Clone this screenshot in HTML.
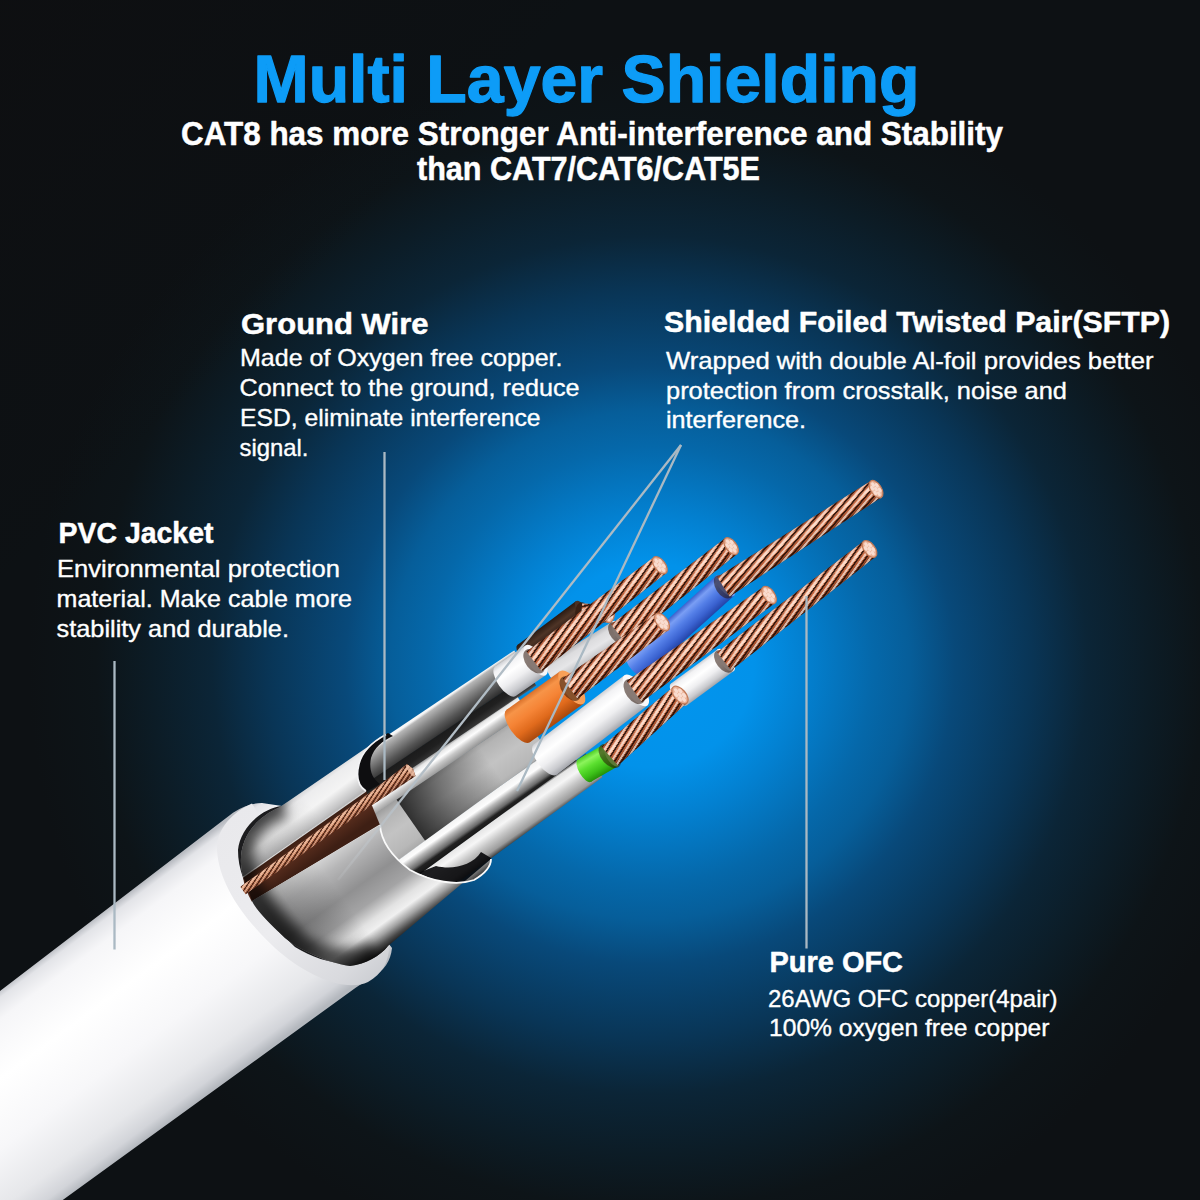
<!DOCTYPE html>
<html lang="en">
<head>
<meta charset="utf-8">
<title>Multi Layer Shielding</title>
<style>
html,body{margin:0;padding:0;background:#0d1114;}
body{width:1200px;height:1200px;overflow:hidden;font-family:"Liberation Sans",sans-serif;}
svg{display:block;position:absolute;left:0;top:0;}
text{font-family:"Liberation Sans",sans-serif;}
</style>
</head>
<body>
<svg width="1200" height="1200" viewBox="0 0 1200 1200">
<defs>
<radialGradient id="bgglow" gradientUnits="userSpaceOnUse" cx="0" cy="0" r="1" gradientTransform="translate(650,665) scale(622,610)">
<stop offset="0" stop-color="#0296f0"/>
<stop offset="0.167" stop-color="#0292ea"/>
<stop offset="0.25" stop-color="#0380d0"/>
<stop offset="0.358" stop-color="#0568aa"/>
<stop offset="0.417" stop-color="#065e9a"/>
<stop offset="0.49" stop-color="#08497a"/>
<stop offset="0.613" stop-color="#093556"/>
<stop offset="0.703" stop-color="#0b2537"/>
<stop offset="0.803" stop-color="#0c1c26"/>
<stop offset="0.89" stop-color="#0d1418"/>
<stop offset="1" stop-color="#0d1114"/>
</radialGradient>
<linearGradient id="bgshade" gradientUnits="userSpaceOnUse" x1="0" y1="0" x2="300" y2="300">
<stop offset="0" stop-color="#0e0e10" stop-opacity="0.7"/>
<stop offset="1" stop-color="#0e0e10" stop-opacity="0"/>
</linearGradient>
<linearGradient id="jacketG" gradientUnits="userSpaceOnUse" x1="112" y1="905.3" x2="236" y2="1072.4">
<stop offset="0" stop-color="#b9bcc2"/>
<stop offset="0.035" stop-color="#e3e4e8"/>
<stop offset="0.12" stop-color="#f6f6f8"/>
<stop offset="0.35" stop-color="#ffffff"/>
<stop offset="0.62" stop-color="#f7f7f9"/>
<stop offset="0.85" stop-color="#e6e7ea"/>
<stop offset="0.95" stop-color="#d2d4d9"/>
<stop offset="1" stop-color="#b4b8be"/>
</linearGradient>
<linearGradient id="ringG" gradientUnits="userSpaceOnUse" x1="225" y1="820" x2="380" y2="985">
<stop offset="0" stop-color="#e9e9ec"/>
<stop offset="0.5" stop-color="#ececef"/>
<stop offset="0.85" stop-color="#d9dade"/>
<stop offset="1" stop-color="#c9cbd0"/>
</linearGradient>
<linearGradient id="ofUpG" gradientUnits="userSpaceOnUse" x1="318" y1="778" x2="345" y2="815">
<stop offset="0" stop-color="#cfd0d3"/>
<stop offset="0.15" stop-color="#ededee"/>
<stop offset="0.45" stop-color="#f4f4f4"/>
<stop offset="0.75" stop-color="#c4c4c5"/>
<stop offset="1" stop-color="#8e8e8f"/>
</linearGradient>
<linearGradient id="ofLoG" gradientUnits="userSpaceOnUse" x1="316" y1="862" x2="381" y2="952">
<stop offset="0" stop-color="#d4d4d4"/>
<stop offset="0.14" stop-color="#b6b6b7"/>
<stop offset="0.4" stop-color="#909091"/>
<stop offset="0.58" stop-color="#a4a4a5"/>
<stop offset="0.72" stop-color="#e2e2e2"/>
<stop offset="0.8" stop-color="#f0f0f0"/>
<stop offset="0.88" stop-color="#a2a2a2"/>
<stop offset="0.95" stop-color="#4a4a4a"/>
<stop offset="1" stop-color="#1c1c1c"/>
</linearGradient>
<linearGradient id="ofShade" gradientUnits="userSpaceOnUse" x1="250" y1="890" x2="330" y2="830">
<stop offset="0" stop-color="#000" stop-opacity="0.4"/>
<stop offset="0.35" stop-color="#000" stop-opacity="0.15"/>
<stop offset="1" stop-color="#000" stop-opacity="0"/>
</linearGradient>
<linearGradient id="grooveG" gradientUnits="userSpaceOnUse" x1="300" y1="832" x2="318" y2="858">
<stop offset="0" stop-color="#2e170e"/>
<stop offset="0.5" stop-color="#5a2e1e"/>
<stop offset="1" stop-color="#3e1f14"/>
</linearGradient>
<linearGradient id="cuG" gradientUnits="objectBoundingBox" x1="0" y1="0" x2="0" y2="1">
<stop offset="0" stop-color="#7a3e28"/>
<stop offset="0.25" stop-color="#e2a888"/>
<stop offset="0.5" stop-color="#c67c58"/>
<stop offset="0.8" stop-color="#8a4a30"/>
<stop offset="1" stop-color="#4a2416"/>
</linearGradient>
<pattern id="twist" patternUnits="userSpaceOnUse" width="11" height="40" patternTransform="skewX(-69)">
<rect x="0" y="0" width="3" height="40" fill="#3a190e" fill-opacity="0.85"/>
<rect x="5.5" y="0" width="2.6" height="40" fill="#ffe0cc" fill-opacity="0.55"/>
</pattern>
<linearGradient id="ofShadeL" gradientUnits="userSpaceOnUse" x1="290" y1="940" x2="345" y2="900">
<stop offset="0" stop-color="#000" stop-opacity="0.45"/>
<stop offset="0.3" stop-color="#000" stop-opacity="0.2"/>
<stop offset="1" stop-color="#000" stop-opacity="0"/>
</linearGradient>
<filter id="blur7" x="-20%" y="-20%" width="140%" height="140%"><feGaussianBlur stdDeviation="6"/></filter>
<clipPath id="ofClip"><path d="M280,807 L385,735 C372,742 362,752 359,764 C356,776 358,786 366,791 L380,825 C381,840 390,855 410,870 C432,882 457,886 474,880 C486,873 491,866 491,859 L388,946 C380,956 366,964 350,966 C325,962 300,950 285,938 C268,922 257,911 252,901 L243,876 C236,850 246,822 280,807 Z"/></clipPath>
<linearGradient id="leadFade" gradientUnits="userSpaceOnUse" x1="681" y1="445" x2="338" y2="880">
<stop offset="0" stop-color="#aab9c3"/>
<stop offset="0.8" stop-color="#b4bec6"/>
<stop offset="1" stop-color="#c8ccd0" stop-opacity="0.15"/>
</linearGradient>
<linearGradient id="tW" x1="0" y1="0" x2="0" y2="1"><stop offset="0" stop-color="#cfd0d4"/><stop offset="0.12" stop-color="#f2f2f4"/><stop offset="0.35" stop-color="#ffffff"/><stop offset="0.6" stop-color="#eeeef0"/><stop offset="0.85" stop-color="#c9cace"/><stop offset="1" stop-color="#a2a4aa"/></linearGradient>
<linearGradient id="tW2" x1="0" y1="0" x2="0" y2="1"><stop offset="0" stop-color="#b9babd"/><stop offset="0.2" stop-color="#dcdcde"/><stop offset="0.5" stop-color="#e6e6e8"/><stop offset="0.8" stop-color="#c4c5c8"/><stop offset="1" stop-color="#9a9ca0"/></linearGradient>
<linearGradient id="tO" x1="0" y1="0" x2="0" y2="1"><stop offset="0" stop-color="#d8702a"/><stop offset="0.15" stop-color="#f79448"/><stop offset="0.4" stop-color="#f58436"/><stop offset="0.7" stop-color="#e06a1c"/><stop offset="1" stop-color="#a8480c"/></linearGradient>
<linearGradient id="tB" x1="0" y1="0" x2="0" y2="1"><stop offset="0" stop-color="#3a60cc"/><stop offset="0.2" stop-color="#7a9ef4"/><stop offset="0.45" stop-color="#5580e8"/><stop offset="0.75" stop-color="#3a62d0"/><stop offset="1" stop-color="#2444a8"/></linearGradient>
<linearGradient id="tG" x1="0" y1="0" x2="0" y2="1"><stop offset="0" stop-color="#4ccc24"/><stop offset="0.2" stop-color="#8cf45c"/><stop offset="0.45" stop-color="#5ce030"/><stop offset="0.75" stop-color="#3cc018"/><stop offset="1" stop-color="#249008"/></linearGradient>
<linearGradient id="tBr" x1="0" y1="0" x2="0" y2="1"><stop offset="0" stop-color="#2a1a12"/><stop offset="0.3" stop-color="#4e3426"/><stop offset="0.6" stop-color="#33211a"/><stop offset="1" stop-color="#140c08"/></linearGradient>
<linearGradient id="cu" x1="0" y1="0" x2="0" y2="1"><stop offset="0" stop-color="#7a3a22"/><stop offset="0.16" stop-color="#e29474"/><stop offset="0.36" stop-color="#f6c0a4"/><stop offset="0.55" stop-color="#d67a52"/><stop offset="0.8" stop-color="#9c4e2e"/><stop offset="1" stop-color="#4a2210"/></linearGradient>
<linearGradient id="f1" x1="0" y1="0" x2="0" y2="1"><stop offset="0" stop-color="#ffffff"/><stop offset="0.12" stop-color="#f4f4f4"/><stop offset="0.19" stop-color="#b6b6b6"/><stop offset="0.42" stop-color="#888888"/><stop offset="0.7" stop-color="#565656"/><stop offset="1" stop-color="#2a2a2a"/></linearGradient>
<linearGradient id="f1d" x1="0" y1="0" x2="0" y2="1"><stop offset="0" stop-color="#1a1a1a"/><stop offset="0.5" stop-color="#202020"/><stop offset="0.85" stop-color="#343434"/><stop offset="1" stop-color="#5a5a5a"/></linearGradient>
<linearGradient id="f1c" x1="0" y1="0" x2="0" y2="1"><stop offset="0" stop-color="#6c6c6c"/><stop offset="0.2" stop-color="#e6e6e6"/><stop offset="0.4" stop-color="#fdfdfd"/><stop offset="0.62" stop-color="#c8c8c8"/><stop offset="1" stop-color="#8c8c8c"/></linearGradient>
<linearGradient id="f2" x1="0" y1="0" x2="0" y2="1"><stop offset="0" stop-color="#9c9c9c"/><stop offset="0.15" stop-color="#b4b4b4"/><stop offset="0.5" stop-color="#c3c3c3"/><stop offset="0.85" stop-color="#b8b8b8"/><stop offset="1" stop-color="#a8a8a8"/></linearGradient>
<linearGradient id="f3" x1="0" y1="0" x2="0" y2="1"><stop offset="0" stop-color="#5a5a5a"/><stop offset="0.07" stop-color="#f2f2f2"/><stop offset="0.3" stop-color="#fdfdfd"/><stop offset="0.45" stop-color="#b8b8b8"/><stop offset="0.68" stop-color="#6a6a6a"/><stop offset="0.78" stop-color="#222"/><stop offset="1" stop-color="#141414"/></linearGradient>
<linearGradient id="f4" x1="0" y1="0" x2="0" y2="1"><stop offset="0" stop-color="#2a2a2a"/><stop offset="0.08" stop-color="#e4e4e4"/><stop offset="0.3" stop-color="#f6f6f6"/><stop offset="0.55" stop-color="#c6c6c6"/><stop offset="0.8" stop-color="#9c9c9c"/><stop offset="0.93" stop-color="#4c4c4c"/><stop offset="1" stop-color="#181818"/></linearGradient>
<linearGradient id="f2sh" x1="0" y1="0" x2="1" y2="0"><stop offset="0" stop-color="#000" stop-opacity="0.75"/><stop offset="0.3" stop-color="#000" stop-opacity="0.4"/><stop offset="0.7" stop-color="#000" stop-opacity="0"/></linearGradient>
<pattern id="tw" patternUnits="userSpaceOnUse" width="21" height="60" patternTransform="skewX(-73)">
<rect x="0" y="0" width="5.5" height="60" fill="#260e06" fill-opacity="0.88"/>
<rect x="5.5" y="0" width="3.5" height="60" fill="#a04826" fill-opacity="0.6"/>
<rect x="11.5" y="0" width="6.5" height="60" fill="#fff0e6" fill-opacity="0.66"/>
</pattern>

</defs>
<rect width="1200" height="1200" fill="#0d1114"/>
<rect width="1200" height="1200" fill="url(#bgglow)"/>
<rect width="1200" height="1200" fill="url(#bgshade)"/>
<!-- PVC jacket -->
<g id="jacket">
<path d="M-5,994.8 L233,812.8 Q247,803 262,803 L282,806 L392,948 Q390,968 372,977 L356,987.5 L60,1202 L-5,1202 Z" fill="url(#jacketG)"/>
<!-- end face ring -->
<path d="M252,803.5 C232,812 216,830 217,850 C219,885 245,920 275,948 C305,975 345,993 368,982 C382,974 389,962 389,946 L300,880 Z" fill="url(#ringG)"/>
</g>
<g id="inner" transform="translate(388,735) rotate(-34.84)">
<polygon points="-70.0,56.8 122.0,60.1 122.0,105.3 -70.0,109.2" fill="url(#f2)"/>
<polygon points="-30.0,57.5 110.0,59.9 110.0,105.6 -30.0,108.4" fill="url(#f2sh)"/>
<polygon points="-70.0,-1.2 152.0,2.7 152.0,31.2 -70.0,27.3" fill="url(#f1)"/>
<polygon points="-70.0,26.8 150.0,30.6 150.0,44.1 -70.0,40.3" fill="url(#f1d)"/>
<polygon points="-70.0,39.8 128.0,43.2 128.0,60.7 -70.0,57.3" fill="url(#f1c)"/>
<polygon points="-70.0,108.7 140.0,104.5 140.0,129.0 -70.0,133.2" fill="url(#f3)"/>
<polygon points="-70.0,132.7 152.0,128.2 152.0,157.2 -70.0,161.7" fill="url(#f4)"/>
<g transform="translate(158.0,11.5) rotate(-1.96)"><ellipse cx="0" cy="0" rx="4.8" ry="11.5" fill="url(#tBr)"/><rect x="0" y="-11.5" width="73.0" height="23.0" fill="url(#tBr)"/><ellipse cx="73.0" cy="0" rx="4.8" ry="11.5" fill="#4a3024"/></g>
<g transform="translate(229.0,10.0) rotate(37.69)"><ellipse cx="0" cy="0" rx="6.5" ry="10.5" fill="#2a1208" fill-opacity="0.55"/><polygon points="0,-9.0 27.8,-9.0 27.8,9.0 0,9.0" fill="url(#cu)"/><polygon points="0,-9.0 27.8,-9.0 27.8,9.0 0,9.0" fill="url(#tw)"/><ellipse cx="27.8" cy="0" rx="5.0" ry="9.0" fill="#e9b196" stroke="#c27a58" stroke-width="1.2"/><ellipse cx="27.8" cy="0.0" rx="1.5" ry="2.4" fill="#f9dccf"/><ellipse cx="27.8" cy="-5.0" rx="1.5" ry="2.4" fill="#f9dccf"/><ellipse cx="27.8" cy="5.0" rx="1.5" ry="2.4" fill="#f9dccf"/><ellipse cx="30.3" cy="-2.5" rx="1.5" ry="2.4" fill="#f9dccf"/><ellipse cx="30.3" cy="2.5" rx="1.5" ry="2.4" fill="#f9dccf"/><ellipse cx="25.3" cy="-2.5" rx="1.5" ry="2.4" fill="#f9dccf"/><ellipse cx="25.3" cy="2.5" rx="1.5" ry="2.4" fill="#f9dccf"/></g>
<g transform="translate(172.0,44.5) rotate(2.60)"><ellipse cx="0" cy="0" rx="5.5" ry="13.0" fill="url(#tW2)"/><rect x="0" y="-13.0" width="77.1" height="26.0" fill="url(#tW2)"/><ellipse cx="77.1" cy="0" rx="5.5" ry="13.0" fill="#eeeeef"/></g>
<g transform="translate(247.0,48.0) rotate(-2.81)"><ellipse cx="0" cy="0" rx="7.8" ry="13.0" fill="#2a1208" fill-opacity="0.55"/><polygon points="0,-11.5 142.7,-9.8 142.7,9.8 0,11.5" fill="url(#cu)"/><polygon points="0,-11.5 142.7,-9.8 142.7,9.8 0,11.5" fill="url(#tw)"/><ellipse cx="142.7" cy="0" rx="5.4" ry="9.8" fill="#e9b196" stroke="#c27a58" stroke-width="1.2"/><ellipse cx="142.7" cy="0.0" rx="1.6" ry="2.6" fill="#f9dccf"/><ellipse cx="142.7" cy="-5.4" rx="1.6" ry="2.6" fill="#f9dccf"/><ellipse cx="142.7" cy="5.4" rx="1.6" ry="2.6" fill="#f9dccf"/><ellipse cx="145.4" cy="-2.7" rx="1.6" ry="2.6" fill="#f9dccf"/><ellipse cx="145.4" cy="2.7" rx="1.6" ry="2.6" fill="#f9dccf"/><ellipse cx="140.0" cy="-2.7" rx="1.6" ry="2.6" fill="#f9dccf"/><ellipse cx="140.0" cy="2.7" rx="1.6" ry="2.6" fill="#f9dccf"/></g>
<g transform="translate(243.0,85.0) rotate(-7.18)"><ellipse cx="0" cy="0" rx="5.7" ry="13.5" fill="url(#tB)"/><rect x="0" y="-13.5" width="119.9" height="27.0" fill="url(#tB)"/><ellipse cx="119.9" cy="0" rx="5.7" ry="13.5" fill="#6f98f4"/></g>
<g transform="translate(360.0,70.0) rotate(2.21)"><ellipse cx="0" cy="0" rx="7.8" ry="13.0" fill="#2a1208" fill-opacity="0.55"/><polygon points="0,-11.5 181.1,-9.8 181.1,9.8 0,11.5" fill="url(#cu)"/><polygon points="0,-11.5 181.1,-9.8 181.1,9.8 0,11.5" fill="url(#tw)"/><ellipse cx="181.1" cy="0" rx="5.4" ry="9.8" fill="#e9b196" stroke="#c27a58" stroke-width="1.2"/><ellipse cx="181.1" cy="0.0" rx="1.6" ry="2.6" fill="#f9dccf"/><ellipse cx="181.1" cy="-5.4" rx="1.6" ry="2.6" fill="#f9dccf"/><ellipse cx="181.1" cy="5.4" rx="1.6" ry="2.6" fill="#f9dccf"/><ellipse cx="183.8" cy="-2.7" rx="1.6" ry="2.6" fill="#f9dccf"/><ellipse cx="183.8" cy="2.7" rx="1.6" ry="2.6" fill="#f9dccf"/><ellipse cx="178.5" cy="-2.7" rx="1.6" ry="2.6" fill="#f9dccf"/><ellipse cx="178.5" cy="2.7" rx="1.6" ry="2.6" fill="#f9dccf"/></g>
<g transform="translate(127.0,23.0) rotate(0.00)"><ellipse cx="0" cy="0" rx="7.6" ry="18.0" fill="url(#tW)"/><rect x="0" y="-18.0" width="37.0" height="36.0" fill="url(#tW)"/><ellipse cx="37.0" cy="0" rx="7.6" ry="18.0" fill="#f6f6f8"/></g>
<g transform="translate(162.0,23.0) rotate(-2.54)"><ellipse cx="0" cy="0" rx="8.4" ry="14.0" fill="#2a1208" fill-opacity="0.55"/><polygon points="0,-12.5 158.2,-10.0 158.2,10.0 0,12.5" fill="url(#cu)"/><polygon points="0,-12.5 158.2,-10.0 158.2,10.0 0,12.5" fill="url(#tw)"/><ellipse cx="158.2" cy="0" rx="5.5" ry="10.0" fill="#e9b196" stroke="#c27a58" stroke-width="1.2"/><ellipse cx="158.2" cy="0.0" rx="1.6" ry="2.7" fill="#f9dccf"/><ellipse cx="158.2" cy="-5.5" rx="1.6" ry="2.7" fill="#f9dccf"/><ellipse cx="158.2" cy="5.5" rx="1.6" ry="2.7" fill="#f9dccf"/><ellipse cx="160.9" cy="-2.8" rx="1.6" ry="2.7" fill="#f9dccf"/><ellipse cx="160.9" cy="2.8" rx="1.6" ry="2.7" fill="#f9dccf"/><ellipse cx="155.4" cy="-2.8" rx="1.6" ry="2.7" fill="#f9dccf"/><ellipse cx="155.4" cy="2.8" rx="1.6" ry="2.7" fill="#f9dccf"/></g>
<g transform="translate(262.0,133.0) rotate(-1.48)"><ellipse cx="0" cy="0" rx="5.7" ry="13.5" fill="url(#tW)"/><rect x="0" y="-13.5" width="58.0" height="27.0" fill="url(#tW)"/><ellipse cx="58.0" cy="0" rx="5.7" ry="13.5" fill="#f6f6f8"/></g>
<g transform="translate(318.0,131.5) rotate(-2.84)"><ellipse cx="0" cy="0" rx="7.8" ry="13.0" fill="#2a1208" fill-opacity="0.55"/><polygon points="0,-11.5 183.7,-9.8 183.7,9.8 0,11.5" fill="url(#cu)"/><polygon points="0,-11.5 183.7,-9.8 183.7,9.8 0,11.5" fill="url(#tw)"/><ellipse cx="183.7" cy="0" rx="5.4" ry="9.8" fill="#e9b196" stroke="#c27a58" stroke-width="1.2"/><ellipse cx="183.7" cy="0.0" rx="1.6" ry="2.6" fill="#f9dccf"/><ellipse cx="183.7" cy="-5.4" rx="1.6" ry="2.6" fill="#f9dccf"/><ellipse cx="183.7" cy="5.4" rx="1.6" ry="2.6" fill="#f9dccf"/><ellipse cx="186.4" cy="-2.7" rx="1.6" ry="2.6" fill="#f9dccf"/><ellipse cx="186.4" cy="2.7" rx="1.6" ry="2.6" fill="#f9dccf"/><ellipse cx="181.0" cy="-2.7" rx="1.6" ry="2.6" fill="#f9dccf"/><ellipse cx="181.0" cy="2.7" rx="1.6" ry="2.6" fill="#f9dccf"/></g>
<g transform="translate(112.0,67.0) rotate(-0.87)"><ellipse cx="0" cy="0" rx="8.4" ry="20.0" fill="url(#tO)"/><rect x="0" y="-20.0" width="66.0" height="40.0" fill="url(#tO)"/><ellipse cx="66.0" cy="0" rx="8.4" ry="20.0" fill="#f9a058"/></g>
<g transform="translate(176.0,66.0) rotate(-1.11)"><ellipse cx="0" cy="0" rx="8.4" ry="14.0" fill="#2a1208" fill-opacity="0.55"/><polygon points="0,-12.5 113.5,-10.2 113.5,10.2 0,12.5" fill="url(#cu)"/><polygon points="0,-12.5 113.5,-10.2 113.5,10.2 0,12.5" fill="url(#tw)"/><ellipse cx="113.5" cy="0" rx="5.6" ry="10.2" fill="#e9b196" stroke="#c27a58" stroke-width="1.2"/><ellipse cx="113.5" cy="0.0" rx="1.7" ry="2.8" fill="#f9dccf"/><ellipse cx="113.5" cy="-5.6" rx="1.7" ry="2.8" fill="#f9dccf"/><ellipse cx="113.5" cy="5.6" rx="1.7" ry="2.8" fill="#f9dccf"/><ellipse cx="116.3" cy="-2.9" rx="1.7" ry="2.8" fill="#f9dccf"/><ellipse cx="116.3" cy="2.9" rx="1.7" ry="2.8" fill="#f9dccf"/><ellipse cx="110.7" cy="-2.9" rx="1.7" ry="2.8" fill="#f9dccf"/><ellipse cx="110.7" cy="2.9" rx="1.7" ry="2.8" fill="#f9dccf"/></g>
<g transform="translate(115.0,110.0) rotate(-2.51)"><ellipse cx="0" cy="0" rx="8.0" ry="19.0" fill="url(#tW)"/><rect x="0" y="-19.0" width="114.1" height="38.0" fill="url(#tW)"/><ellipse cx="114.1" cy="0" rx="8.0" ry="19.0" fill="#f8f8fa"/></g>
<g transform="translate(227.0,105.0) rotate(-0.76)"><ellipse cx="0" cy="0" rx="8.5" ry="14.2" fill="#2a1208" fill-opacity="0.55"/><polygon points="0,-12.8 165.7,-10.0 165.7,10.0 0,12.8" fill="url(#cu)"/><polygon points="0,-12.8 165.7,-10.0 165.7,10.0 0,12.8" fill="url(#tw)"/><ellipse cx="165.7" cy="0" rx="5.5" ry="10.0" fill="#e9b196" stroke="#c27a58" stroke-width="1.2"/><ellipse cx="165.7" cy="0.0" rx="1.6" ry="2.7" fill="#f9dccf"/><ellipse cx="165.7" cy="-5.5" rx="1.6" ry="2.7" fill="#f9dccf"/><ellipse cx="165.7" cy="5.5" rx="1.6" ry="2.7" fill="#f9dccf"/><ellipse cx="168.5" cy="-2.8" rx="1.6" ry="2.7" fill="#f9dccf"/><ellipse cx="168.5" cy="2.8" rx="1.6" ry="2.7" fill="#f9dccf"/><ellipse cx="163.0" cy="-2.8" rx="1.6" ry="2.7" fill="#f9dccf"/><ellipse cx="163.0" cy="2.8" rx="1.6" ry="2.7" fill="#f9dccf"/></g>
<g transform="translate(141.0,141.5) rotate(4.61)"><ellipse cx="0" cy="0" rx="5.5" ry="13.0" fill="url(#tG)"/><rect x="0" y="-13.0" width="31.1" height="26.0" fill="url(#tG)"/><ellipse cx="31.1" cy="0" rx="5.5" ry="13.0" fill="#9cf870"/></g>
<g transform="translate(170.0,144.0) rotate(-6.17)"><ellipse cx="0" cy="0" rx="8.4" ry="14.0" fill="#2a1208" fill-opacity="0.55"/><polygon points="0,-12.5 93.0,-10.5 93.0,10.5 0,12.5" fill="url(#cu)"/><polygon points="0,-12.5 93.0,-10.5 93.0,10.5 0,12.5" fill="url(#tw)"/><ellipse cx="93.0" cy="0" rx="5.8" ry="10.5" fill="#e9b196" stroke="#c27a58" stroke-width="1.2"/><ellipse cx="93.0" cy="0.0" rx="1.7" ry="2.8" fill="#f9dccf"/><ellipse cx="93.0" cy="-5.8" rx="1.7" ry="2.8" fill="#f9dccf"/><ellipse cx="93.0" cy="5.8" rx="1.7" ry="2.8" fill="#f9dccf"/><ellipse cx="95.9" cy="-2.9" rx="1.7" ry="2.8" fill="#f9dccf"/><ellipse cx="95.9" cy="2.9" rx="1.7" ry="2.8" fill="#f9dccf"/><ellipse cx="90.2" cy="-2.9" rx="1.7" ry="2.8" fill="#f9dccf"/><ellipse cx="90.2" cy="2.9" rx="1.7" ry="2.8" fill="#f9dccf"/></g>
</g>

<!-- outer foil shield -->
<g id="outerfoil">
<!-- interior seen through cuts -->
<path d="M388,733 C373,741 361,752 358,765 C355,778 358,787 366,792 L380,784 C371,778 369,768 371,758 C374,748 382,741 393,736 Z" fill="#0e0e10"/>
<path d="M418,873 C436,882 457,886 474,880 C486,873 491,866 491,858 L481,852 C472,866 452,870 436,866 Z" fill="#0b0b0d" fill-opacity="0.92"/>
<!-- hole darkness -->
<path d="M282,806 C262,808 240,828 238,850 C238,885 262,915 295,947 C320,962 350,970 375,957 C383,952 387,948 388,945 L320,860 Z" fill="#1c1c1e"/>
<!-- upper half -->
<path id="ofU" d="M280,807 L385,735 C372,742 362,752 359,764 C356,776 358,786 366,791 L243,876 C236,850 246,822 280,807 Z" fill="url(#ofUpG)"/>
<path d="M280,807 L385,735 C372,742 362,752 359,764 C356,776 358,786 366,791 L243,876 C236,850 246,822 280,807 Z" fill="url(#ofShade)"/>
<path d="M386,734.5 C372,742 362,752 359,764 C356,776 358,786 366,791" fill="none" stroke="#f4f4f6" stroke-width="1.6"/>
<!-- groove -->
<path d="M243,877 L366,791 L380,825 L252,902 C247,893 244,885 243,877 Z" fill="url(#grooveG)"/>
<path d="M243,877 L366,791" stroke="#d6d6d6" stroke-width="1.4" fill="none"/>
<path d="M252,902 L380,825" stroke="#e4e4e4" stroke-width="1.4" fill="none"/>
<!-- lower half -->
<path d="M252,901 L380,825 C381,840 390,855 410,870 C432,882 457,886 474,880 C486,873 491,866 491,859 L388,946 C380,956 366,964 350,966 C325,962 300,950 285,938 C268,922 257,911 252,901 Z" fill="url(#ofLoG)"/>
<path d="M252,901 L380,825 C381,840 390,855 410,870 C432,882 457,886 474,880 C486,873 491,866 491,859 L388,946 C380,956 366,964 350,966 C325,962 300,950 285,938 C268,922 257,911 252,901 Z" fill="url(#ofShadeL)"/>
<path d="M380,825 C381,840 390,855 410,870 C432,882 457,886 474,880 C486,873 491,866 491,859" fill="none" stroke="#fafafa" stroke-width="1.8"/>
<g clip-path="url(#ofClip)">
<path d="M284,804 C262,808 240,828 238,850 C238,885 262,915 295,947 C320,962 350,970 378,956" fill="none" stroke="#000" stroke-width="30" stroke-opacity="0.62" filter="url(#blur7)"/>
</g>
<!-- ground wire -->
<g transform="translate(243,890.5) rotate(-35.6)">
<polygon points="0,-4.5 150,-5.6 207,-7.4 209,0 207,7.4 150,5.6 0,4.5" fill="url(#cuG)"/>
<polygon points="0,-4.5 150,-5.6 207,-7.4 209,0 207,7.4 150,5.6 0,4.5" fill="url(#twist)"/>
<ellipse cx="206" cy="0" rx="2.2" ry="7.4" fill="#f0c2a8" fill-opacity="0.8"/>
</g>
</g>
<g id="leaders" stroke="#aab9c3" stroke-width="2.3" fill="none">
<line x1="114.5" y1="661" x2="114.5" y2="949.5"/>
<line x1="384.5" y1="452" x2="384.5" y2="780"/>
<line x1="806.5" y1="596" x2="806.5" y2="948.5"/>
<line x1="681" y1="445" x2="338" y2="880" stroke="url(#leadFade)"/>
<line x1="681" y1="445" x2="517" y2="791"/>
</g>

<g id="labels">
<text x="253.5" y="102" textLength="666" lengthAdjust="spacingAndGlyphs" font-size="66" font-weight="bold" fill="#0d9cf7" stroke="#0d9cf7" stroke-width="1.3" stroke-linejoin="round">Multi Layer Shielding</text>
<text x="181" y="145" textLength="822" lengthAdjust="spacingAndGlyphs" font-size="32.5" font-weight="bold" fill="#ffffff" stroke="#ffffff" stroke-width="0.5" stroke-linejoin="round">CAT8 has more Stronger Anti-interference and Stability</text>
<text x="417" y="180" textLength="343" lengthAdjust="spacingAndGlyphs" font-size="32.5" font-weight="bold" fill="#ffffff" stroke="#ffffff" stroke-width="0.5" stroke-linejoin="round">than CAT7/CAT6/CAT5E</text>
<text x="241" y="334.3" textLength="187.5" lengthAdjust="spacingAndGlyphs" font-size="29.6" font-weight="bold" fill="#ffffff" stroke="#ffffff" stroke-width="0.5" stroke-linejoin="round">Ground Wire</text>
<text x="240" y="365.5" textLength="322.5" lengthAdjust="spacingAndGlyphs" font-size="23.6" font-weight="normal" fill="#ffffff" stroke="#ffffff" stroke-width="0.35" stroke-linejoin="round">Made of Oxygen free copper.</text>
<text x="239.5" y="395.5" textLength="340" lengthAdjust="spacingAndGlyphs" font-size="23.6" font-weight="normal" fill="#ffffff" stroke="#ffffff" stroke-width="0.35" stroke-linejoin="round">Connect to the ground, reduce</text>
<text x="240" y="425.5" textLength="300.5" lengthAdjust="spacingAndGlyphs" font-size="23.6" font-weight="normal" fill="#ffffff" stroke="#ffffff" stroke-width="0.35" stroke-linejoin="round">ESD, eliminate interference</text>
<text x="239.5" y="455.5" textLength="69" lengthAdjust="spacingAndGlyphs" font-size="23.6" font-weight="normal" fill="#ffffff" stroke="#ffffff" stroke-width="0.35" stroke-linejoin="round">signal.</text>
<text x="664" y="332.3" textLength="506" lengthAdjust="spacingAndGlyphs" font-size="29.6" font-weight="bold" fill="#ffffff" stroke="#ffffff" stroke-width="0.5" stroke-linejoin="round">Shielded Foiled Twisted Pair(SFTP)</text>
<text x="666" y="369" textLength="487.5" lengthAdjust="spacingAndGlyphs" font-size="23.6" font-weight="normal" fill="#ffffff" stroke="#ffffff" stroke-width="0.35" stroke-linejoin="round">Wrapped with double Al-foil provides better</text>
<text x="666" y="398.7" textLength="401" lengthAdjust="spacingAndGlyphs" font-size="23.6" font-weight="normal" fill="#ffffff" stroke="#ffffff" stroke-width="0.35" stroke-linejoin="round">protection from crosstalk, noise and</text>
<text x="666" y="428" textLength="140" lengthAdjust="spacingAndGlyphs" font-size="23.6" font-weight="normal" fill="#ffffff" stroke="#ffffff" stroke-width="0.35" stroke-linejoin="round">interference.</text>
<text x="58.5" y="543" textLength="155" lengthAdjust="spacingAndGlyphs" font-size="29.6" font-weight="bold" fill="#ffffff" stroke="#ffffff" stroke-width="0.5" stroke-linejoin="round">PVC Jacket</text>
<text x="57" y="577" textLength="283" lengthAdjust="spacingAndGlyphs" font-size="23.6" font-weight="normal" fill="#ffffff" stroke="#ffffff" stroke-width="0.35" stroke-linejoin="round">Environmental protection</text>
<text x="56.5" y="607" textLength="295.5" lengthAdjust="spacingAndGlyphs" font-size="23.6" font-weight="normal" fill="#ffffff" stroke="#ffffff" stroke-width="0.35" stroke-linejoin="round">material. Make cable more</text>
<text x="56.5" y="636.5" textLength="232.5" lengthAdjust="spacingAndGlyphs" font-size="23.6" font-weight="normal" fill="#ffffff" stroke="#ffffff" stroke-width="0.35" stroke-linejoin="round">stability and durable.</text>
<text x="769.5" y="972" textLength="133.5" lengthAdjust="spacingAndGlyphs" font-size="29.6" font-weight="bold" fill="#ffffff" stroke="#ffffff" stroke-width="0.5" stroke-linejoin="round">Pure OFC</text>
<text x="768" y="1007.3" textLength="289.5" lengthAdjust="spacingAndGlyphs" font-size="23.6" font-weight="normal" fill="#ffffff" stroke="#ffffff" stroke-width="0.35" stroke-linejoin="round">26AWG OFC copper(4pair)</text>
<text x="769" y="1036" textLength="280.5" lengthAdjust="spacingAndGlyphs" font-size="23.6" font-weight="normal" fill="#ffffff" stroke="#ffffff" stroke-width="0.35" stroke-linejoin="round">100% oxygen free copper</text>
</g>
</svg>
</body>
</html>
